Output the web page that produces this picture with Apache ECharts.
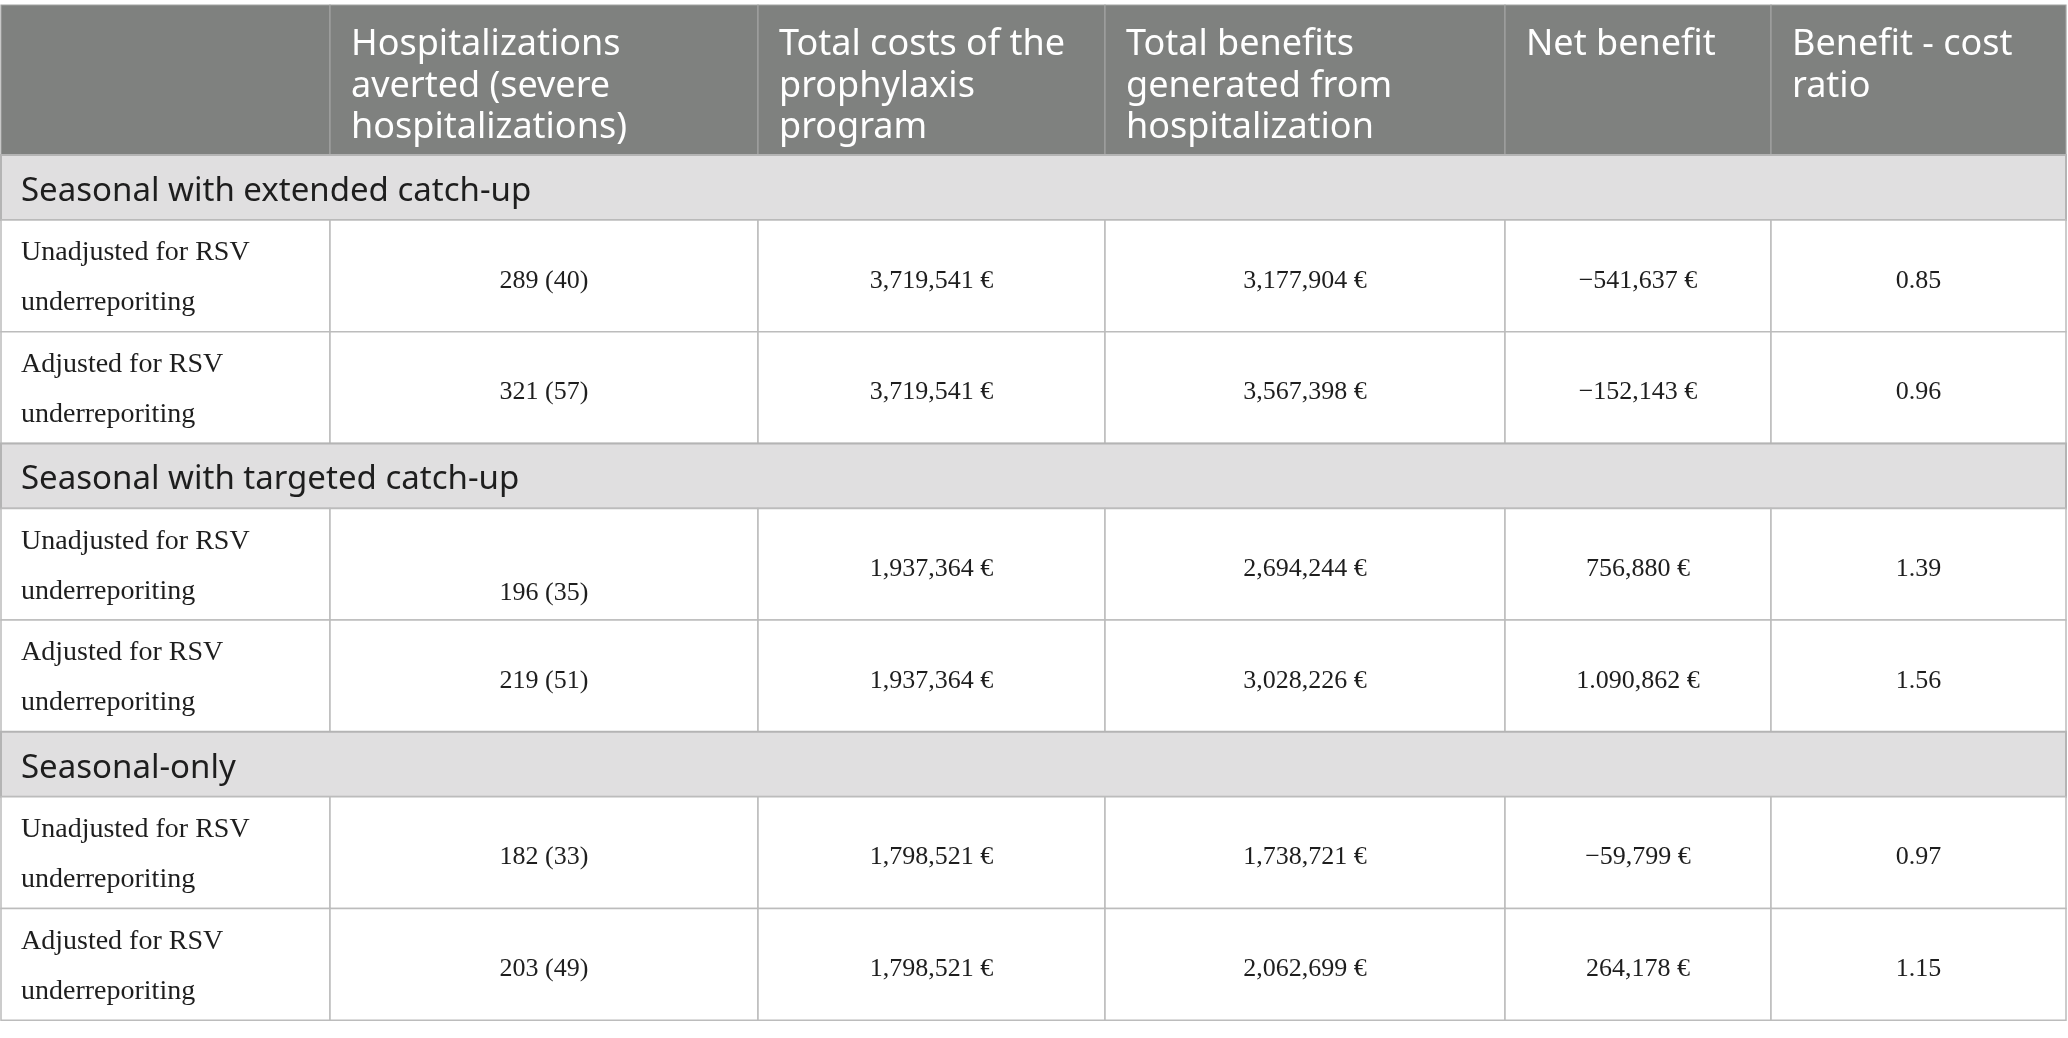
<!DOCTYPE html>
<html><head><meta charset="utf-8">
<script src="https://cdn.jsdelivr.net/npm/echarts@6/dist/echarts.min.js"></script>
<style>html,body{margin:0;padding:0;background:#fff}#c{width:2068px;height:1038px}</style>
</head><body><div id="c"></div>
<script>
// ---- table content ----
const columnHeaders = [
  '',
  'Hospitalizations\naverted (severe\nhospitalizations)',
  'Total costs of the\nprophylaxis\nprogram',
  'Total benefits\ngenerated from\nhospitalization',
  'Net benefit',
  'Benefit - cost\nratio'
];
const strategies = ['Seasonal with extended catch-up', 'Seasonal with targeted catch-up', 'Seasonal-only'];
const scenarios = ['Unadjusted for RSV\nunderreporiting', 'Adjusted for RSV\nunderreporiting'];
const hospitalizationsAverted = ['289 (40)', '321 (57)', '196 (35)', '219 (51)', '182 (33)', '203 (49)'];
const totalCosts = ['3,719,541 €', '3,719,541 €', '1,937,364 €', '1,937,364 €', '1,798,521 €', '1,798,521 €'];
const totalBenefits = ['3,177,904 €', '3,567,398 €', '2,694,244 €', '3,028,226 €', '1,738,721 €', '2,062,699 €'];
const netBenefit = ['\u2212541,637 €', '\u2212152,143 €', '756,880 €', '1.090,862 €', '\u221259,799 €', '264,178 €'];
const benefitCostRatio = ['0.85', '0.96', '1.39', '1.56', '0.97', '1.15'];

// ---- layout (styling only) ----
const W = 2068, H = 1038;
const COL_EDGES = [1, 330, 758, 1105, 1505, 1771, 2066];
const TABLE_TOP = 5, HEADER_H = 150, GROUP_H = 65, ROW_H = 111.7;
const SANS = '"Noto Sans", "Open Sans", sans-serif';
const SERIF = '"Liberation Serif", "DejaVu Serif", serif';
const LOWERED_CELLS = { '2-1': 24 }; // "196 (35)" sits lower in the source

// build cell specs from the data arrays
const cellSpecs = [];
let y = TABLE_TOP;
columnHeaders.forEach((t, c) => cellSpecs.push({ kind: 'header', c0: c, c1: c + 1, y0: y, y1: y + HEADER_H, text: t }));
y += HEADER_H;
strategies.forEach((s, g) => {
  cellSpecs.push({ kind: 'group', c0: 0, c1: 6, y0: y, y1: y + GROUP_H, text: s });
  y += GROUP_H;
  scenarios.forEach((sc, j) => {
    const i = g * 2 + j;
    const vals = [sc, hospitalizationsAverted[i], totalCosts[i], totalBenefits[i], netBenefit[i], benefitCostRatio[i]];
    vals.forEach((v, c) => cellSpecs.push({ kind: c === 0 ? 'label' : 'value', c0: c, c1: c + 1, y0: y, y1: y + ROW_H, text: v, key: i + '-' + c }));
    y += ROW_H;
  });
});

const chart = echarts.init(document.getElementById('c'), null, { renderer: 'canvas' });
chart.setOption({
  animation: false,
  backgroundColor: '#ffffff',
  grid: { left: 0, right: 0, top: 0, bottom: 0 },
  xAxis: { type: 'value', min: 0, max: W, show: false },
  yAxis: { type: 'value', min: 0, max: H, inverse: true, show: false },
  series: [{
    type: 'custom',
    coordinateSystem: 'cartesian2d',
    data: cellSpecs.map((s, i) => [i]),
    renderItem: function (params, api) {
      const s = cellSpecs[params.dataIndex];
      const p0 = api.coord([COL_EDGES[s.c0], s.y0]);
      const p1 = api.coord([COL_EDGES[s.c1], s.y1]);
      const x0 = p0[0], y0 = p0[1], w = p1[0] - p0[0], h = p1[1] - p0[1];
      const children = [];
      let fill = '#ffffff', stroke = '#bcbcbc', lw = 1.5;
      if (s.kind === 'header') { fill = '#7f817f'; stroke = '#a2a3a2'; lw = 1.2; }
      if (s.kind === 'group') { fill = '#e0dfe0'; stroke = '#b4b4b4'; lw = 2; }
      children.push({ type: 'rect', shape: { x: x0, y: y0, width: w, height: h }, style: { fill: fill, stroke: stroke, lineWidth: lw } });
      if (s.kind === 'header') {
        children.push({ type: 'text', style: { text: s.text, x: x0 + 21, y: y0 + 19, align: 'left', verticalAlign: 'top', fontSize: 36, lineHeight: 41.5, fontFamily: SANS, fill: '#ffffff' } });
      } else if (s.kind === 'group') {
        children.push({ type: 'text', style: { text: s.text, x: x0 + 20, y: y0 + h / 2 + 4, align: 'left', verticalAlign: 'middle', fontSize: 33, fontFamily: SANS, fill: '#1e1e1e' } });
      } else if (s.kind === 'label') {
        children.push({ type: 'text', style: { text: s.text, x: x0 + 20, y: y0 + h / 2 + 2, align: 'left', verticalAlign: 'middle', fontSize: 28, lineHeight: 50, fontFamily: SERIF, fill: '#1e1e1e' } });
      } else {
        const dy = LOWERED_CELLS[s.key] || 0;
        children.push({ type: 'text', style: { text: s.text, x: x0 + w / 2, y: y0 + h / 2 + 5 + dy, align: 'center', verticalAlign: 'middle', fontSize: 26, fontFamily: SERIF, fill: '#1e1e1e' } });
      }
      return { type: 'group', children: children };
    }
  }]
});
</script>
</body></html>
